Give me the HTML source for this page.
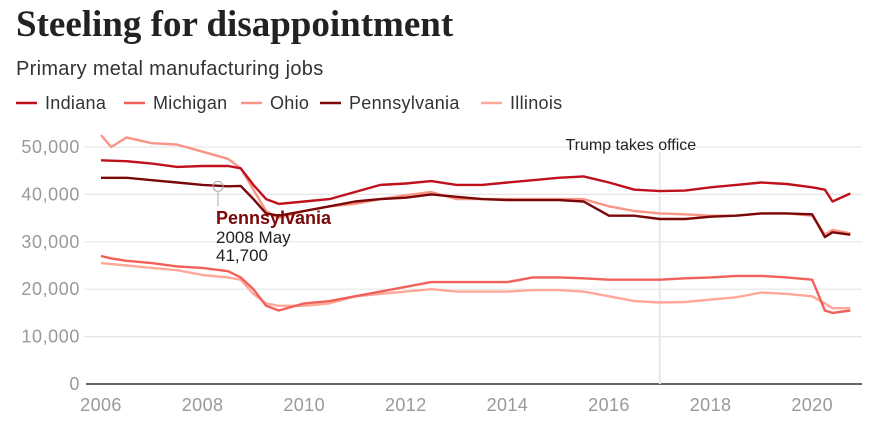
<!DOCTYPE html>
<html><head><meta charset="utf-8"><style>
body{margin:0;background:#fff;width:876px;height:431px;overflow:hidden;font-family:"Liberation Sans",sans-serif}
</style></head><body>
<svg width="876" height="431">
<text x="16" y="36" font-family="Liberation Serif" font-weight="bold" font-size="37" fill="#222">Steeling for disappointment</text>
<text x="16" y="75" font-size="20" fill="#333" letter-spacing="0.3">Primary metal manufacturing jobs</text>
<g id="legend"></g>
<g id="grid"></g><g id="lines"></g><g id="ann"></g>
</svg>
<script>
const dates=[2006,2006.2,2006.5,2007,2007.5,2008,2008.5,2008.75,2009,2009.25,2009.5,2010,2010.5,2011,2011.5,2012,2012.5,2013,2013.5,2014,2014.5,2015,2015.5,2016,2016.5,2017,2017.5,2018,2018.5,2019,2019.5,2020,2020.25,2020.4,2020.75];
const indiana=[47.2,47.1,47.0,46.5,45.8,46.0,46.0,45.5,42,39,38,38.5,39,40.5,42,42.3,42.8,42,42,42.5,43,43.5,43.8,42.5,41,40.7,40.8,41.5,42,42.5,42.2,41.5,41,38.5,40.2];
const michigan=[27,26.5,26,25.5,24.8,24.5,23.8,22.5,20,16.5,15.5,17,17.5,18.5,19.5,20.5,21.5,21.5,21.5,21.5,22.5,22.5,22.3,22,22,22,22.3,22.5,22.8,22.8,22.5,22,15.5,15,15.5];
const ohio=[52.5,50,52,50.8,50.5,49,47.5,45.5,41,36.5,35,36.5,37.5,38,39,39.8,40.5,39,39,39,39,39,39,37.5,36.5,36,35.8,35.5,35.5,36,36,35.5,31.5,32.5,31.8];
const pennsylvania=[43.5,43.5,43.5,43,42.5,42,41.7,41.8,39,36,35.5,36.5,37.5,38.5,39,39.3,40,39.5,39,38.8,38.8,38.8,38.5,35.5,35.5,34.8,34.8,35.3,35.5,36,36,35.8,31,32,31.5];
const illinois=[25.5,25.3,25,24.5,24,23,22.5,22,19,17,16.5,16.5,17,18.5,19,19.5,20,19.5,19.5,19.5,19.8,19.8,19.5,18.5,17.5,17.2,17.3,17.8,18.3,19.3,19,18.5,17,16,16];
const yTicks=[0,10000,20000,30000,40000,50000];
const xTicks=[2006,2008,2010,2012,2014,2016,2018,2020];
const NS="http://www.w3.org/2000/svg";
const x=v=>101+(v-2006)*50.8;
const y=v=>384-v*0.00474;
function mk(t,a,p){const e=document.createElementNS(NS,t);for(const k in a)e.setAttribute(k,a[k]);p.appendChild(e);return e;}
const grid=document.getElementById('grid');
yTicks.forEach(t=>{
 const l=mk('line',{x1:t?84:86,x2:862,y1:y(t),y2:y(t),stroke:t?'#e6e6e6':'#333','stroke-width':t?1.2:1.5},grid);
 
 
 const tx=mk('text',{x:80,y:y(t)+6,'text-anchor':'end','font-size':18,'letter-spacing':0.6,fill:'#999'},grid);
 tx.textContent=t.toLocaleString('en-US');
 
 
});
xTicks.forEach(t=>{
 const tx=mk('text',{x:x(t),y:411,'text-anchor':'middle','font-size':18,'letter-spacing':0.4,fill:'#999'},grid);
 tx.textContent=t;
 
 
});
const tl=mk('line',{x1:x(2017),x2:x(2017),y1:152,y2:384,stroke:'#e8e8e8','stroke-width':2},grid);


const tt=mk('text',{x:x(2017)-29,y:150,'text-anchor':'middle','font-size':16,fill:'#222'},grid);
tt.textContent='Trump takes office';


const series=[['Indiana',indiana,'#c0101c'],['Michigan',michigan,'#f2605a'],['Ohio',ohio,'#fa9585'],['Pennsylvania',pennsylvania,'#7a0808'],['Illinois',illinois,'#ffa898']];
const lines=document.getElementById('lines'),leg=document.getElementById('legend');
const order=[4,2,1,3,0];
order.forEach(i=>{const [n,d,c]=series[i];
 const p=mk('path',{d:d.map((v,j)=>(j?'L':'M')+x(dates[j]).toFixed(1)+','+y(v*1000).toFixed(1)).join(''),fill:'none',stroke:c,'stroke-width':2.4,'stroke-linejoin':'round'},lines);
 
 
});
const legX=[16,124,241,320,481];
series.forEach(([n,d,c],i)=>{
 const lx=legX[i];
 mk('line',{x1:lx,x2:lx+21,y1:103,y2:103,stroke:c,'stroke-width':2.5},leg);
 const t=mk('text',{x:lx+29,y:109,'font-size':18,'letter-spacing':0.3,fill:'#333'},leg);
 t.textContent=n;
 
 
});
const ann=document.getElementById('ann');
mk('line',{x1:218,x2:218,y1:192,y2:206,stroke:'#aaa','stroke-width':1},ann);
mk('circle',{cx:218,cy:y(41700),r:5,fill:'none',stroke:'#aaa','stroke-width':1},ann);
const a1=mk('text',{x:216,y:224,'font-size':18,'font-weight':'bold',fill:'#7a0808'},ann);a1.textContent='Pennsylvania';


const a2=mk('text',{x:216,y:243,'font-size':17,fill:'#222'},ann);a2.textContent='2008 May';


const a3=mk('text',{x:216,y:261,'font-size':17,fill:'#222'},ann);a3.textContent='41,700';


</script>
</body></html>
